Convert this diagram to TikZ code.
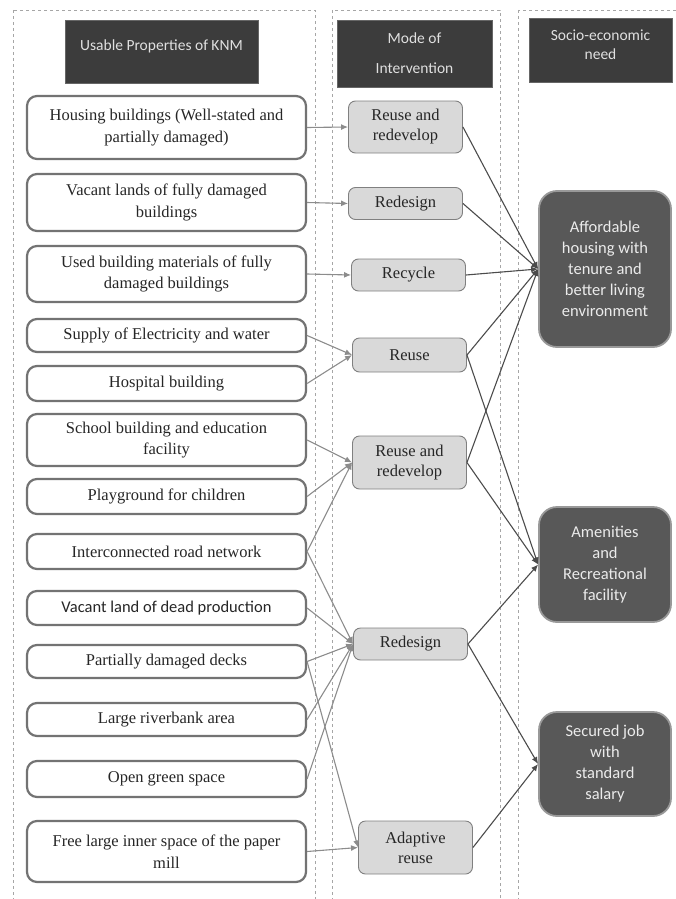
\documentclass[tikz,border=0pt]{standalone}
\usepackage{fontspec}
\setmainfont{Liberation Serif}
\newfontfamily\calfont{Carlito}
\usetikzlibrary{arrows.meta}

\definecolor{headgray}{HTML}{3C3C3C}
\definecolor{needgray}{HTML}{585858}

\begin{document}
\begin{tikzpicture}[x=1pt,y=-1pt,
    col/.style={draw=black!35,dashed,line width=0.8pt},
    head/.style={draw=black!60,fill=headgray,text=white!88!black,align=center,
      font=\calfont\fontsize{15.5}{19}\selectfont},
    prop/.style={draw=black!55,line width=2.2pt,fill=white,rounded corners=10pt,
      minimum width=279pt,align=center,text=black!85,font=\fontsize{16.5}{21.5}\selectfont},
    mode/.style={draw=black!50,line width=0.9pt,fill=black!15,rounded corners=7pt,
      minimum width=114pt,align=center,text=black!85,font=\fontsize{16.5}{20}\selectfont},
    need/.style={draw=black!40,line width=1.8pt,fill=needgray,rounded corners=18pt,
      minimum width=132pt,align=center,text=white!92!black,font=\calfont\fontsize{16.5}{21}\selectfont},
    to mode/.style={draw=black!45,line width=1.1pt,-{Latex[length=7pt,width=6pt]}},
    to need/.style={draw=black!70,line width=1.1pt,-{Latex[length=7pt,width=6pt]}}]
    \useasboundingbox (0,0) rectangle (675,899);
    % the three columns
    \foreach \a/\b in {13/315,332/500,518/690}
      \draw[col] (\a,10) rectangle (\b,910);
    % column heads
    \node[head,minimum width=193pt,minimum height=63pt,text depth=13pt] (H-1) at (161.5,51.5) {Usable Properties of KNM};
    \node[head,minimum width=155pt,minimum height=67pt] (H-2) at (414.5,53.5) {Mode of\\[11pt]Intervention};
    \node[head,minimum width=143pt,minimum height=64pt,text depth=10pt] (H-3) at (600.5,50) {Socio-economic\\need};
    % usable properties
    \foreach \Y/\H/\X [count=\n] in
      {127.5/63/{Housing buildings (Well-stated and\\partially damaged)},
       202.5/57/{Vacant lands of fully damaged\\buildings},
       274/56/{Used building materials of fully\\damaged buildings},
       335.5/33/{Supply of Electricity and water},
       383.5/35/{Hospital building},
       440/52/{School building and education\\facility},
       496.5/35/{Playground for children},
       551.5/35/{Interconnected road network},
       608/34/{\calfont Vacant land of dead production},
       661.5/33/{Partially damaged decks},
       719.5/33/{Large riverbank area},
       779/36/{Open green space},
       851.5/61/{Free large inner space of the paper\\mill}}
      \node[prop,minimum height=\H pt] (P-\n) at (166.5,\Y) {\X};
    % modes of intervention
    \foreach \X/\Y/\H/\T [count=\n] in
      {405.5/127/52/{Reuse and\\redevelop},
       405.5/203.5/32/Redesign,
       408.5/275/32/Recycle,
       409.5/355/34/Reuse,
       409.5/462.5/53/{Reuse and\\redevelop},
       410.5/644/32/Redesign,
       415.5/847.5/53/{Adaptive\\reuse}}
      \node[mode,minimum height=\H pt] (M-\n) at (\X,\Y) {\T};
    % needs
    \foreach \Y/\H/\T [count=\n] in
      {269/156/{Affordable\\housing with\\tenure and\\better living\\environment},
       564.5/115/{Amenities\\and\\Recreational\\facility},
       764/104/{Secured job\\with\\standard\\salary}}
      \node[need,minimum height=\H pt] (N-\n) at (605,\Y) {\T};
    % links
    \foreach \a/\b in {1/1,2/2,3/3,4/4,5/4,6/5,7/5,8/5,8/6,9/6,10/6,11/6,12/6,10/7,13/7}
      \draw[to mode] (P-\a.east) -- (M-\b.west);
    \foreach \a/\b in {1/1,2/1,3/1,4/1,5/1,4/2,5/2,6/2,6/3,7/3}
      \draw[to need] (M-\a.east) -- (N-\b.west);
\end{tikzpicture}
\end{document}
